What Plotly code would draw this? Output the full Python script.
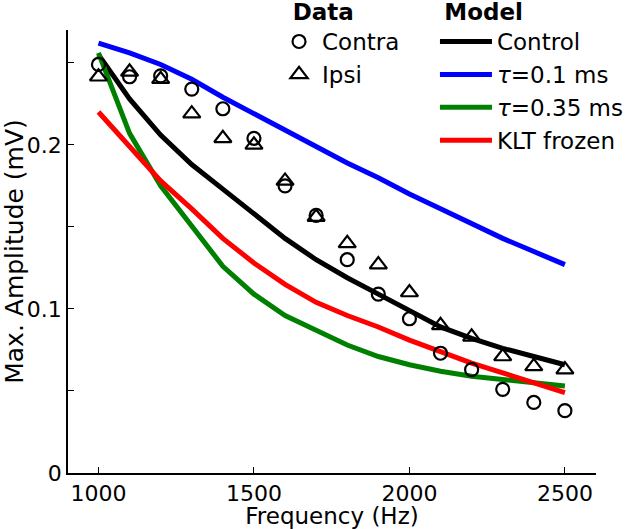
import plotly.graph_objects as go

freq = [1000, 1100, 1200, 1300, 1400, 1500, 1600, 1700, 1800, 1900, 2000, 2100, 2200, 2300, 2400, 2500]

contra = [0.249, 0.2415, 0.242, 0.234, 0.222, 0.204, 0.175, 0.157, 0.130, 0.109, 0.094, 0.073, 0.063, 0.051, 0.043, 0.038]
ipsi = [0.2415, 0.2445, 0.240, 0.219, 0.204, 0.200, 0.178, 0.156, 0.140, 0.127, 0.110, 0.090, 0.083, 0.071, 0.065, 0.063]

control = [0.255, 0.228, 0.206, 0.188, 0.173, 0.158, 0.143, 0.130, 0.119, 0.109, 0.099, 0.089, 0.082, 0.076, 0.071, 0.066]
tau01 = [0.262, 0.256, 0.249, 0.240, 0.229, 0.219, 0.209, 0.199, 0.189, 0.180, 0.170, 0.161, 0.152, 0.143, 0.135, 0.127]
tau035 = [0.256, 0.207, 0.175, 0.150, 0.126, 0.109, 0.096, 0.087, 0.078, 0.071, 0.066, 0.062, 0.059, 0.057, 0.055, 0.053]
klt = [0.220, 0.199, 0.178, 0.161, 0.143, 0.128, 0.115, 0.104, 0.096, 0.089, 0.081, 0.074, 0.067, 0.061, 0.055, 0.049]

x_ticks = [1000, 1500, 2000, 2500]
y_ticks = [0, 0.1, 0.2]
y_tick_text = ["0", "0.1", "0.2"]
y_minor = [0.05, 0.15, 0.25]

FONT = "DejaVu Sans, Arial, sans-serif"

fig = go.Figure()

lw = 5
fig.add_trace(go.Scatter(x=freq, y=control, mode="lines", name="Control",
                         line=dict(color="black", width=lw), legend="legend2"))
fig.add_trace(go.Scatter(x=freq, y=tau01, mode="lines", name="<i>τ</i>=0.1 ms",
                         line=dict(color="#0000ff", width=lw), legend="legend2"))
fig.add_trace(go.Scatter(x=freq, y=tau035, mode="lines", name="<i>τ</i>=0.35 ms",
                         line=dict(color="#008000", width=lw), legend="legend2"))
fig.add_trace(go.Scatter(x=freq, y=klt, mode="lines", name="KLT frozen",
                         line=dict(color="#ff0000", width=lw), legend="legend2"))

fig.add_trace(go.Scatter(x=freq, y=contra, mode="markers", name="Contra",
                         marker=dict(symbol="circle-open", size=13, color="black",
                                     line=dict(width=2.2, color="black")),
                         legend="legend"))
fig.add_trace(go.Scatter(x=freq, y=ipsi, mode="markers", name="Ipsi",
                         marker=dict(symbol="triangle-up-open", size=15, color="black",
                                     line=dict(width=2.2, color="black")),
                         legend="legend"))

fig.update_layout(
    width=640, height=529,
    margin=dict(l=68, r=44, t=30, b=56, autoexpand=False),
    paper_bgcolor="white", plot_bgcolor="white",
    font=dict(family=FONT, size=22, color="black"),
    showlegend=True,
    legend=dict(
        x=0.394, y=1.09, xanchor="left", yanchor="top",
        title=dict(text="\u00a0\u00a0<b>Data</b>", side="top", font=dict(size=23)),
        font=dict(size=23), bgcolor="rgba(0,0,0,0)",
        itemwidth=36, tracegroupgap=0,
    ),
    legend2=dict(
        x=0.695, y=1.09, xanchor="left", yanchor="top",
        title=dict(text="\u00a0<b>Model</b>", side="top", font=dict(size=23)),
        font=dict(size=23), bgcolor="rgba(0,0,0,0)",
        itemwidth=52, tracegroupgap=0,
    ),
    xaxis=dict(
        range=[902, 2600], tickvals=x_ticks, ticks="inside", ticklen=6,
        tickcolor="black", showline=True, linecolor="black", linewidth=1.5,
        showgrid=False, zeroline=False, mirror=False,
        title=dict(text="Frequency (Hz)", standoff=0, font=dict(size=23)),
        tickfont=dict(size=22),
    ),
    yaxis=dict(
        range=[0, 0.27], tickvals=y_ticks, ticktext=y_tick_text, ticks="inside",
        ticklen=6, tickcolor="black", showline=True, linecolor="black", linewidth=1.5,
        showgrid=False, zeroline=False, mirror=False,
        title=dict(text="Max. Amplitude (mV)", standoff=4, font=dict(size=25)),
        tickfont=dict(size=22),
        minor=dict(tickvals=y_minor, ticks="inside", ticklen=6, tickcolor="black"),
    ),
)

fig.write_html("out.html", post_script="document.body.style.margin='0';",
               config={"displayModeBar": False})
